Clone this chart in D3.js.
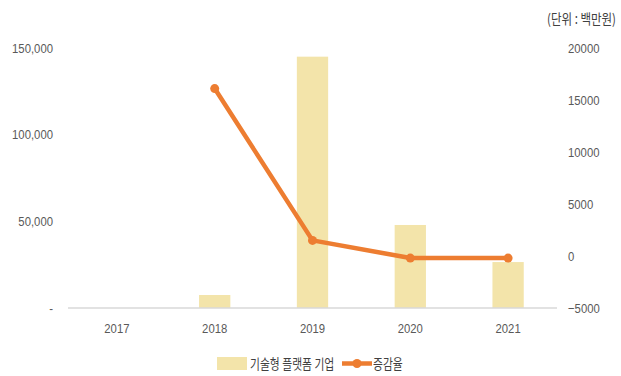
<!DOCTYPE html>
<html>
<head>
<meta charset="utf-8">
<script src="https://cdn.jsdelivr.net/npm/d3@7"></script>
<style>
  html, body { margin: 0; padding: 0; background: #fff; }
  svg { display: block; }
  .num { font-family: "Liberation Sans", Arial, sans-serif; fill: #595959; }
  .kr { font-family: "Noto Sans CJK KR", sans-serif; fill: #404040; }
</style>
</head>
<body>
<svg id="chart" width="621" height="376"></svg>
<script>
// Yearly totals (left axis) and change amount (right axis), in millions of won
const years = ["2017", "2018", "2019", "2020", "2021"];
const platformValues = [0, 7500, 145000, 47900, 26500];
const changeYears = ["2018", "2019", "2020", "2021"];
const changeValues = [16100, 1500, -200, -200];
const leftTicks = [0, 50000, 100000, 150000];
const rightTicks = [-5000, 0, 5000, 10000, 15000, 20000];
const barName = "기술형 플랫폼 기업";
const lineName = "증감율";
const unitLabel = "(단위 : 백만원)";

const barColor = "#F3E4AA";
const lineColor = "#ED7D31";
const narrow = 0.84; // horizontal squeeze for a condensed look

const svg = d3.select("#chart");
const plot = { left: 68, right: 557, top: 48, bottom: 308 };

const x = d3.scaleBand().domain(years).range([plot.left, plot.right]).paddingInner(0.68).paddingOuter(0.34);
const yLeft = d3.scaleLinear().domain([0, 150000]).range([plot.bottom, plot.top]);
const yRight = d3.scaleLinear().domain([-5000, 20000]).range([plot.bottom, plot.top]);
const cx = d => x(d) + x.bandwidth() / 2;

// Bars
svg.append("g").selectAll("rect")
  .data(years.map((y, i) => ({ y, v: platformValues[i] })).filter(d => d.v > 0))
  .join("rect")
  .attr("x", d => x(d.y))
  .attr("width", x.bandwidth())
  .attr("y", d => yLeft(d.v))
  .attr("height", d => yLeft(0) - yLeft(d.v))
  .attr("fill", barColor);

// Baseline
svg.append("line")
  .attr("x1", plot.left).attr("x2", plot.right)
  .attr("y1", yLeft(0)).attr("y2", yLeft(0))
  .attr("stroke", "#d9d9d9").attr("stroke-width", 1.3);

// Left axis labels (zero shown as a dash)
const leftAxis = d3.axisLeft(yLeft).tickValues(leftTicks)
  .tickFormat(v => v === 0 ? "-" : d3.format(",")(v)).tickSize(0).tickPadding(0);
const gL = svg.append("g").attr("transform", "translate(53,0)").call(leftAxis);
gL.select(".domain").remove();
gL.selectAll("text").attr("class", "num").attr("font-size", 13.5).attr("dy", "0.32em")
  .attr("transform", `scale(${narrow},1)`);

// Right axis labels
const rightAxis = d3.axisRight(yRight).tickValues(rightTicks).tickSize(0).tickPadding(0)
  .tickFormat(v => v < 0 ? "\u2212" + Math.abs(v) : String(v));
const gR = svg.append("g").attr("transform", "translate(568,0)").call(rightAxis);
gR.select(".domain").remove();
gR.selectAll("text").attr("class", "num").attr("font-size", 13.5).attr("dy", "0.32em")
  .attr("transform", `scale(${narrow},1)`);

// Category axis labels
const bottomAxis = d3.axisBottom(x).tickSize(0).tickPadding(0);
const gB = svg.append("g").attr("transform", "translate(0,323)").call(bottomAxis);
gB.select(".domain").remove();
gB.selectAll("text").attr("class", "num").attr("font-size", 13.5).attr("dy", "0.71em")
  .attr("transform", `scale(${narrow},1)`);

// Change line with markers
const pts = changeYears.map((y, i) => ({ y, v: changeValues[i] }));
svg.append("path")
  .datum(pts)
  .attr("fill", "none")
  .attr("stroke", lineColor)
  .attr("stroke-width", 4.5)
  .attr("stroke-linejoin", "round")
  .attr("d", d3.line().x(d => cx(d.y)).y(d => yRight(d.v)));
svg.append("g").selectAll("circle")
  .data(pts)
  .join("circle")
  .attr("cx", d => cx(d.y))
  .attr("cy", d => yRight(d.v))
  .attr("r", 4.5)
  .attr("fill", lineColor);

// Unit label (squeezed horizontally, right edge at x=616)
svg.append("g").attr("transform", "translate(616,24) scale(0.82,1)")
  .append("text")
  .attr("class", "kr")
  .attr("text-anchor", "end")
  .attr("font-size", 14)
  .text(unitLabel);

// Legend
const lg = svg.append("g");
lg.append("rect").attr("x", 217).attr("y", 357).attr("width", 30).attr("height", 13).attr("fill", barColor);
lg.append("g").attr("transform", "translate(250,369) scale(0.8,1)")
  .append("text").attr("class", "kr").attr("font-size", 13.5).text(barName);
lg.append("line").attr("x1", 342).attr("x2", 372).attr("y1", 363.5).attr("y2", 363.5)
  .attr("stroke", lineColor).attr("stroke-width", 4.5);
lg.append("circle").attr("cx", 357).attr("cy", 363.5).attr("r", 4.5).attr("fill", lineColor);
lg.append("g").attr("transform", "translate(373,369) scale(0.8,1)")
  .append("text").attr("class", "kr").attr("font-size", 13.5).text(lineName);
</script>
</body>
</html>
